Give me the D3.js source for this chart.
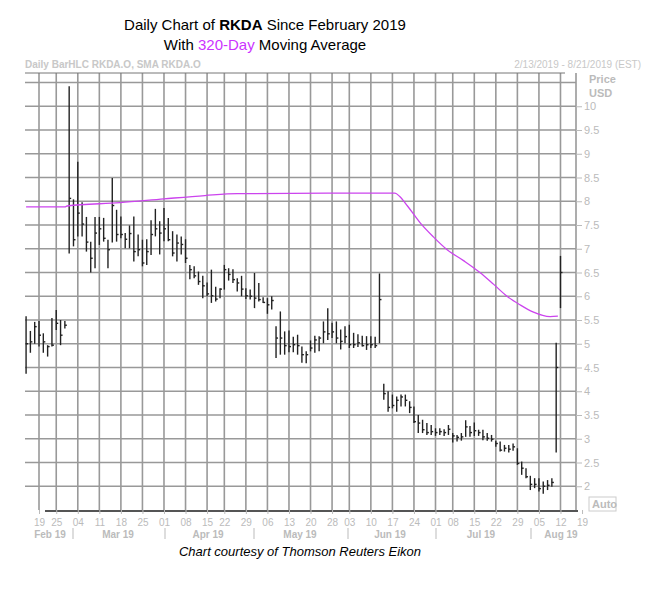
<!DOCTYPE html>
<html>
<head>
<meta charset="utf-8">
<script src="https://cdn.jsdelivr.net/npm/d3@7"></script>
<style>
  body { margin: 0; background: #fff; font-family: "Liberation Sans", Arial, sans-serif; }
  .lbl { fill: #bbb; font-size: 11px; }
</style>
</head>
<body>
<svg id="chart" width="647" height="597"></svg>
<script>
// trading calendar
const startDate = "2019-02-13";
const endDate = "2019-08-19";
const holidays = ["2019-02-18", "2019-04-19", "2019-05-27", "2019-07-04"];

// daily bars: high, low, close
const highs = [5.58,5.27,5.46,5.48,5.22,4.97,5.54,5.71,5.5,5.48, 10.42,
  8.04,8.83,7.98,7.67,7.15,7.67,7.67,7.65,7.19,8.49,7.82,7.68,7.33,7.49,7.68,7.3,7.19,7.2,7.6,7.84,
  7.58,7.86,7.65,7.37,7.3,7.26,7.2,6.66,6.63,6.52,6.43,6.29,6.56,6.2,6.17,6.66,6.59,6.57,6.38,6.43,6.17,6.14,6.49,6.28,5.98,5.96,6.0,
  5.37,5.68,5.26,5.28,5.15,5.19,4.94,4.84,
  5.07,5.17,5.16,5.47,5.75,5.44,5.47,5.3,5.37,5.4,5.23,5.2,5.17,5.16,5.16,5.15,6.48,
  4.16,4.0,3.93,3.89,3.93,3.93,3.79,3.68,3.5,3.4,
  3.33,3.29,3.22,3.22,3.2,3.29,3.12,3.08,3.12,3.39,3.27,3.34,3.19,3.19,3.12,3.08,2.96,2.94,2.87,2.87,2.9,2.8,2.52,2.38,
  2.22,2.17,2.17,2.1,2.13,2.17,5.02,6.85];
const lows = [4.37,4.81,5.0,4.94,4.81,4.73,4.94,5.29,4.97,5.32, 6.9,
  7.05,7.26,7.26,6.94,6.5,6.59,7.08,7.15,6.59,7.13,7.15,7.22,7.01,7.01,6.73,6.84,6.63,6.66,6.87,7.26,
  6.88,7.16,7.16,6.84,6.73,6.88,6.7,6.36,6.38,6.24,5.96,6.0,5.86,5.89,5.96,6.14,6.33,6.28,6.1,6.0,5.94,5.93,5.75,5.89,5.86,5.63,5.72,
  4.7,4.77,4.77,4.82,4.82,4.77,4.6,4.59,
  4.84,4.81,4.84,5.01,5.08,5.12,5.01,4.88,5.01,4.91,4.91,4.93,4.94,4.87,4.91,4.91,5.01,
  3.82,3.57,3.64,3.57,3.68,3.68,3.54,3.33,3.12,3.12,
  3.08,3.08,3.06,3.08,3.06,3.08,2.92,2.94,2.96,3.04,3.04,3.06,3.06,2.97,2.96,2.94,2.83,2.73,2.73,2.71,2.75,2.45,2.24,2.17,
  1.92,1.96,1.89,1.84,1.92,1.99,2.71,5.75];
const closes = [5.0,5.04,5.36,5.18,5.04,4.94,4.97,5.43,5.18,5.39, 8.06,
  7.19,7.75,7.52,7.14,6.8,7.33,7.42,7.22,6.98,7.91,7.3,7.3,7.2,7.32,6.94,6.98,6.7,6.94,7.3,7.42,
  7.33,7.42,7.19,6.91,7.12,7.09,6.8,6.56,6.43,6.31,6.22,6.05,6.01,5.94,6.15,6.56,6.46,6.35,6.28,6.15,6.01,6.0,5.96,5.93,5.87,5.82,5.91,
  5.12,5.12,4.96,4.94,4.98,4.96,4.77,4.77,
  4.91,5.08,5.12,5.25,5.21,5.25,5.12,5.05,5.15,4.98,4.98,5.02,4.96,4.98,4.98,4.96,5.93,
  3.95,3.66,3.7,3.81,3.88,3.81,3.66,3.36,3.33,3.19,
  3.13,3.15,3.13,3.15,3.13,3.2,3.06,3.03,3.04,3.25,3.13,3.17,3.13,3.04,3.01,2.99,2.9,2.76,2.8,2.78,2.83,2.48,2.38,2.2,
  2.04,2.04,1.95,2.0,2.02,2.08,4.5,6.5];

// 320-day SMA, read at trading-day index
const smaIdx = [0, 9, 9.5, 21.8, 32, 41.5, 49, 70, 85.6, 86.7, 88.5, 91.4, 94.5, 97.7, 101.5, 105.3, 108.5, 111.6, 114.6, 117.6, 121.6, 123.4];
const smaVal = [7.88, 7.88, 7.9, 7.97, 8.05, 8.12, 8.16, 8.17, 8.17, 8.1, 7.9, 7.55, 7.25, 6.98, 6.75, 6.5, 6.25, 6.0, 5.82, 5.67, 5.57, 5.58];

const priceTicks = [2,2.5,3,3.5,4,4.5,5,5.5,6,6.5,7,7.5,8,8.5,9,9.5,10];
const months = ["Feb 19","Mar 19","Apr 19","May 19","Jun 19","Jul 19","Aug 19"];
const monthX = [50, 118, 208, 300, 390, 481, 561];
const monthSep = [73, 165, 254, 348, 436, 531];

// build trading days
const fmt = d3.timeFormat("%Y-%m-%d");
const days = d3.timeDay.range(new Date(startDate + "T00:00"), d3.timeDay.offset(new Date(endDate + "T00:00"), 1))
  .filter(d => d.getDay() !== 0 && d.getDay() !== 6 && !holidays.includes(fmt(d)));
const weekStarts = days.map((d, i) => i).filter(i => i > 0 && d3.timeMonday.floor(days[i]) > d3.timeMonday.floor(days[i - 1]));

const svg = d3.select("#chart");
const pLeft = 25, pRight = 576, pTop = 73, pBottom = 510;
const x = d3.scaleLinear().domain([-0.25, 127.6]).range([pLeft, pRight]);
const y = d3.scaleLinear().domain([1.5, 10.7]).range([pBottom, pTop]);

// titles
svg.append("text").attr("x", 265).attr("y", 30).attr("text-anchor", "middle")
  .style("font-size", "15px")
  .html('Daily Chart of <tspan font-weight="bold">RKDA</tspan> Since February 2019');
svg.append("text").attr("x", 265).attr("y", 50).attr("text-anchor", "middle")
  .style("font-size", "15px")
  .html('With <tspan fill="#cc33ff">320-Day</tspan> Moving Average');
svg.append("text").attr("x", 25).attr("y", 68).attr("fill", "#c8c8c8")
  .style("font-size", "10px").style("font-weight", "bold").text("Daily BarHLC RKDA.O, SMA RKDA.O");
svg.append("text").attr("x", 641).attr("y", 68).attr("fill", "#c8c8c8").attr("text-anchor", "end")
  .style("font-size", "10px").text("2/13/2019 - 8/21/2019 (EST)");

// grid
const grid = svg.append("g").attr("stroke", "#999").attr("stroke-width", 1.6);
d3.range(2, 10.6, 0.5).forEach(p => {
  grid.append("line").attr("x1", pLeft).attr("x2", pRight).attr("y1", y(p)).attr("y2", y(p));
});
weekStarts.filter(i => x(i) < pRight).forEach(i => {
  grid.append("line").attr("x1", x(i)).attr("x2", x(i)).attr("y1", pTop).attr("y2", pBottom);
});
svg.append("line").attr("x1", pLeft).attr("x2", 565).attr("y1", pTop).attr("y2", pTop).attr("stroke", "#777");
svg.append("line").attr("x1", pRight).attr("x2", pRight).attr("y1", pTop).attr("y2", pBottom).attr("stroke", "#999").attr("stroke-width", 1.6);
svg.append("line").attr("x1", 45).attr("x2", 578).attr("y1", pBottom + 1).attr("y2", pBottom + 1).attr("stroke", "#555").attr("stroke-width", 2);

// price axis
const yAxis = svg.append("g").attr("transform", `translate(${pRight},0)`)
  .call(d3.axisRight(y).tickValues(priceTicks).tickSize(6).tickFormat(d3.format("~g")));
yAxis.select(".domain").remove();
yAxis.selectAll("line").attr("stroke", "#bbb");
yAxis.selectAll("text").attr("fill", "#bbb").style("font-size", "11px").attr("x", 8);
svg.append("text").attr("class", "lbl").attr("x", 589).attr("y", 83).style("font-weight", "bold").text("Price");
svg.append("text").attr("class", "lbl").attr("x", 589).attr("y", 97).style("font-weight", "bold").text("USD");
svg.append("rect").attr("x", 589).attr("y", 497).attr("width", 27).attr("height", 14).attr("fill", "none").attr("stroke", "#ccc");
svg.append("text").attr("class", "lbl").attr("x", 592).attr("y", 508).style("font-weight", "bold").text("Auto");

// date axis
const xAxis = svg.append("g").attr("transform", `translate(0,${pBottom})`)
  .call(d3.axisBottom(x).tickValues(weekStarts).tickSize(4).tickFormat(i => d3.timeFormat("%d")(days[i])));
xAxis.select(".domain").remove();
xAxis.selectAll("line").attr("stroke", "#bbb");
xAxis.selectAll("text").attr("fill", "#bbb").style("font-size", "10px").attr("dy", "0.9em");
months.forEach((m, k) => {
  svg.append("text").attr("class", "lbl").attr("x", monthX[k]).attr("y", 538).attr("text-anchor", "middle")
    .style("font-weight", "bold").style("font-size", "10px").text(m);
});
monthSep.forEach(sx => {
  svg.append("line").attr("x1", sx).attr("x2", sx).attr("y1", 528).attr("y2", 539).attr("stroke", "#bbb");
});
svg.append("text").attr("x", 300).attr("y", 556).attr("text-anchor", "middle")
  .style("font-size", "13px").style("font-style", "italic").text("Chart courtesy of Thomson Reuters Eikon");

// bars
const bars = svg.append("g").attr("stroke", "#222").attr("stroke-width", 1.4);
highs.forEach((h, i) => {
  bars.append("line").attr("x1", x(i)).attr("x2", x(i)).attr("y1", y(h)).attr("y2", y(lows[i]));
  bars.append("line").attr("x1", x(i)).attr("x2", x(i) + 2).attr("y1", y(closes[i])).attr("y2", y(closes[i]));
});

// SMA
svg.append("path")
  .datum(smaIdx.map((v, k) => [v, smaVal[k]]))
  .attr("fill", "none").attr("stroke", "#cc44ee").attr("stroke-width", 1.3)
  .attr("d", d3.line().x(d => x(d[0])).y(d => y(d[1])).curve(d3.curveMonotoneX));
</script>
</body>
</html>
